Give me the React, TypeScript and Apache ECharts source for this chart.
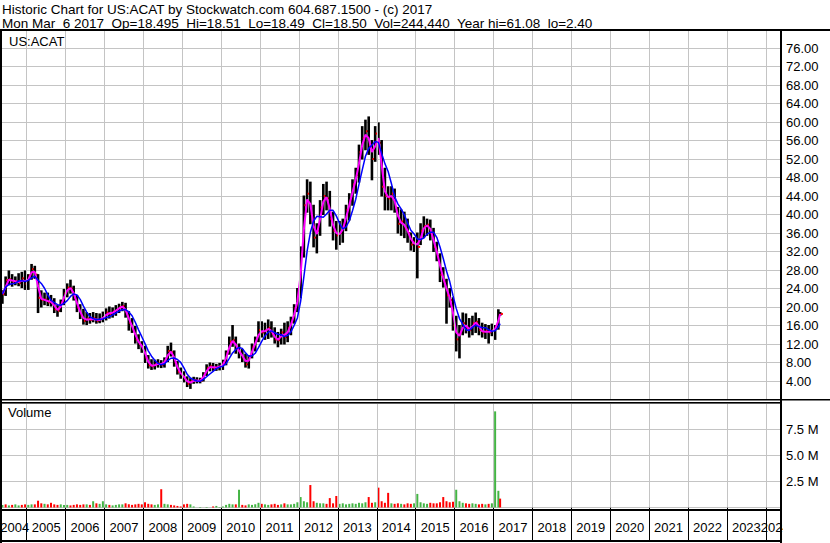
import React, { useEffect, useRef } from "react";
import * as echarts from "echarts";

// ---- time frame (monthly bars, first bar = May 2004) ----
const START_YEAR = 2004;
const START_MONTH = 5;
const LAST_BAR_T = 2017.17; // Mar 6 2017
const T_MIN = 2004.365;
const T_MAX = 2024.365;

// ---- price data ----
const HIGH = [
  23.5, 26.5, 27.8, 27.0, 26.5, 27.2, 27.5, 27.8,
  27.0, 29.2, 28.8, 27.0, 23.5, 23.0, 23.0, 22.5, 21.8, 20.3, 21.5, 23.8,
  25.0, 25.8, 24.5, 22.5, 20.5, 19.5, 18.8, 18.6, 18.8, 18.6, 18.5, 18.9,
  19.6, 20.0, 19.8, 20.3, 20.6, 21.0, 20.8, 19.0, 17.5, 15.8, 14.0, 12.5,
  11.5, 9.5, 8.6, 8.5, 8.6, 8.4, 9.0, 11.5, 12.2, 10.5, 8.2, 6.8,
  6.0, 4.9, 4.5, 4.8, 4.7, 4.6, 5.8, 7.5, 7.9, 7.8, 7.6, 7.8,
  8.5, 10.5, 13.5, 16.0, 13.5, 12.0, 10.8, 9.8, 9.5, 12.0, 13.5, 16.8,
  16.8, 16.5, 17.2, 16.8, 15.5, 14.5, 15.2, 16.5, 16.8, 17.8, 20.5, 24.0,
  33.0, 44.0, 47.5, 47.0, 42.0, 38.0, 43.0, 46.5, 47.0, 45.0, 40.5, 38.5,
  38.5, 39.0, 42.0, 44.5, 47.5, 50.0, 55.0, 59.0, 60.4, 61.1, 56.0, 59.0,
  59.8, 56.0, 50.0, 46.0, 46.0, 45.5, 41.5, 41.0, 40.5, 39.0, 36.0, 35.0,
  36.0, 38.0, 39.5, 39.0, 38.8, 37.0, 34.0, 31.5, 28.5, 26.0, 24.0, 22.0,
  18.0, 16.0, 18.7, 18.5, 17.5, 18.0, 18.7, 17.5, 16.5, 16.2, 16.0, 16.3,
  16.0, 19.4, 18.8,
];
const LOW = [
  20.8, 22.5, 24.8, 24.5, 24.8, 24.6, 24.2, 23.8,
  23.8, 26.0, 26.2, 18.8, 20.0, 20.5, 20.3, 20.2, 18.8, 18.0, 19.0, 20.5,
  22.2, 23.0, 21.5, 19.0, 17.5, 16.3, 16.2, 16.5, 16.8, 16.5, 16.6, 16.8,
  17.2, 17.6, 17.8, 18.2, 18.8, 19.2, 17.8, 15.0, 14.5, 12.2, 11.0, 10.2,
  8.0, 6.8, 6.5, 6.6, 7.0, 6.9, 7.0, 8.2, 9.4, 7.2, 5.5, 4.6,
  3.8, 2.8, 2.4, 3.5, 3.6, 3.6, 4.0, 5.2, 6.2, 6.3, 6.3, 6.4,
  6.5, 7.5, 9.8, 11.5, 10.0, 9.0, 8.2, 7.0, 6.8, 9.0, 10.5, 12.5,
  13.5, 13.0, 13.2, 13.5, 12.2, 11.4, 12.0, 12.0, 12.5, 14.0, 16.5, 19.0,
  22.0, 30.8, 40.5, 38.0, 33.0, 31.7, 35.5, 40.0, 41.0, 37.5, 34.5, 32.5,
  33.5, 34.0, 36.5, 38.8, 42.0, 44.6, 47.0, 52.0, 54.0, 53.0, 47.5, 51.5,
  53.0, 44.0, 41.0, 41.0, 41.0, 40.5, 36.0, 35.5, 35.0, 34.0, 32.3, 32.0,
  26.3, 33.5, 35.0, 35.5, 34.5, 32.0, 30.0, 25.5, 24.3, 16.5, 20.0, 15.0,
  10.5, 9.0, 14.0, 14.4, 13.5, 14.0, 14.5, 14.0, 13.5, 13.2, 12.2, 13.8,
  13.0, 15.2, 18.2,
];
const CLOSE = [
  22.8, 25.8, 26.0, 25.5, 25.6, 25.2, 26.2, 25.0,
  26.8, 28.2, 27.0, 22.0, 21.5, 21.6, 21.0, 21.2, 19.5, 19.2, 21.0, 23.0,
  24.2, 24.0, 22.0, 19.8, 18.2, 17.0, 17.5, 17.2, 17.6, 17.0, 17.4, 17.8,
  18.8, 18.5, 19.0, 19.4, 20.0, 20.2, 18.6, 16.5, 15.2, 13.0, 12.0, 11.2,
  9.0, 7.4, 7.2, 7.6, 7.8, 7.5, 8.6, 10.5, 10.2, 8.0, 6.0, 5.4,
  4.5, 3.4, 3.9, 4.2, 4.0, 4.1, 5.5, 6.8, 7.2, 6.8, 7.0, 7.2,
  7.8, 10.0, 12.5, 12.8, 11.0, 10.0, 9.0, 7.6, 9.2, 11.4, 12.8, 15.0,
  14.5, 15.0, 15.5, 14.2, 13.0, 12.8, 14.5, 13.5, 15.5, 16.8, 19.8, 22.5,
  31.5, 42.0, 44.5, 40.0, 35.0, 36.5, 41.5, 44.0, 43.5, 39.0, 36.5, 35.5,
  36.0, 37.5, 41.0, 43.0, 46.5, 48.5, 53.5, 56.5, 58.0, 55.0, 52.0, 57.5,
  55.5, 46.0, 44.0, 43.5, 44.5, 41.5, 38.0, 38.5, 37.0, 36.0, 33.5, 34.0,
  33.0, 36.5, 37.5, 37.8, 36.0, 33.0, 31.0, 27.0, 25.5, 22.5, 21.5, 16.0,
  13.0, 14.5, 16.5, 15.5, 15.0, 16.5, 16.8, 15.0, 14.5, 14.8, 14.5, 15.0,
  15.5, 18.5, 18.5,
];

// ---- volume (millions) and bar colour (g = green, r = red) ----
const VOLUME = [
  0.25, 0.3, 0.2, 0.25, 0.3, 0.2, 0.25, 0.3,
  0.25, 0.3, 0.3, 0.65, 0.4, 0.35, 0.3, 0.45, 0.3, 0.25, 0.3, 0.25,
  0.25, 0.2, 0.25, 0.3, 0.25, 0.3, 0.3, 0.25, 0.6, 0.4, 0.35, 0.6,
  0.3, 0.25, 0.2, 0.25, 0.3, 0.3, 0.4, 0.3, 0.25, 0.3, 0.35, 0.3,
  0.5, 0.35, 0.3, 0.25, 0.3, 1.75, 0.35, 0.3, 0.25, 0.2, 0.15, 0.1,
  0.3, 0.35, 0.3, 0.1, 0, 0.05, 0, 0.05, 0, 0.1, 0.15, 0.05,
  0.1, 0.25, 0.35, 0.3, 0.3, 1.7, 0.25, 0.2, 0.3, 0.25, 0.3, 0.45,
  0.35, 0.3, 0.25, 0.3, 0.35, 0.25, 0.3, 0.4, 0.3, 0.3, 0.35, 0.5,
  1.0, 0.6, 0.5, 2.15, 0.6, 0.45, 0.4, 0.4, 0.35, 0.9, 0.4, 1.1,
  0.35, 0.4, 0.3, 0.35, 0.4, 0.35, 0.45, 0.4, 0.5, 1.0, 0.45, 0.5,
  1.9, 0.6, 0.45, 1.4, 0.4, 0.35, 0.4, 0.35, 0.3, 0.4, 0.35, 0.4,
  1.3, 0.5, 0.4, 0.35, 0.45, 0.4, 0.4, 0.5, 1.0, 0.6, 0.5, 0.55,
  1.7, 0.6, 0.45, 0.4, 0.35, 0.4, 0.35, 0.3, 0.35, 0.3, 0.35, 0.4,
  9.2, 1.6, 0.85,
];
const VOL_DIR = (
  "grgrggrr" +
  "ggrrrgrrrrgg" +
  "grrrrrgrgrgg" +
  "grggggrrrrrr" +
  "rrrggrggrrrr" +
  "rrggrggggrgg" +
  "ggggrgrrgggg" +
  "rggrrrgrgggg" +
  "gggrrgggrrrr" +
  "gggggggggrrg" +
  "rrrrgrrgrrrg" +
  "ggggrrrrrrrr" +
  "gggrrggrrgrg" +
  "ggr"
).split("");

// ---- axes ----
const GRID_YEARS = [2005, 2006, 2007, 2008, 2009, 2010, 2011, 2012, 2013, 2014, 2015, 2016, 2017, 2018, 2019, 2020, 2021, 2022, 2023, 2024];
const YEAR_LABEL_POS = [2004.69, 2005.5, 2006.5, 2007.5, 2008.5, 2009.5, 2010.5, 2011.5, 2012.5, 2013.5, 2014.5, 2015.5, 2016.5, 2017.5, 2018.5, 2019.5, 2020.5, 2021.5, 2022.5, 2023.5, 2024.24];
const MA_FAST = 2;
const MA_SLOW = 5;

const HEADER_1 = "Historic Chart for US:ACAT by Stockwatch.com 604.687.1500 - (c) 2017";
const HEADER_2 = "Mon Mar  6 2017  Op=18.495  Hi=18.51  Lo=18.49  Cl=18.50  Vol=244,440  Year hi=61.08  lo=2.40";

const FONT = "'Liberation Sans', Arial, sans-serif";

function barTime(i: number) {
  const m0 = START_MONTH - 1 + i;
  const y = START_YEAR + Math.floor(m0 / 12);
  const m = m0 % 12;
  const t = y + (m + 0.5) / 12;
  return Math.min(t, LAST_BAR_T);
}

function sma(values: number[], n: number) {
  return values.map((_, i) => {
    const from = Math.max(0, i - n + 1);
    const slice = values.slice(from, i + 1);
    return slice.reduce((a, b) => a + b, 0) / slice.length;
  });
}

export default function App() {
  const ref = useRef<HTMLDivElement>(null);

  useEffect(() => {
    if (!ref.current) return;
    const chart = echarts.init(ref.current, undefined, { renderer: "svg" });

    const times = CLOSE.map((_, i) => barTime(i));
    const priceData = CLOSE.map((c, i) => [times[i], LOW[i], HIGH[i], c]);
    const fast = sma(CLOSE, MA_FAST).map((v, i) => [times[i], v]);
    const slow = sma(CLOSE, MA_SLOW).map((v, i) => [times[i], v]);
    const volData = VOLUME.map((v, i) => ({
      value: [times[i], v],
      itemStyle: { color: VOL_DIR[i] === "g" ? "#44b444" : "#ff0000" },
    }));

    const gridLine = {
      silent: true,
      symbol: ["none", "none"],
      label: { show: false },
      lineStyle: { color: "#c4c4c4", width: 1, type: "solid" as const },
      emphasis: { disabled: true },
      data: GRID_YEARS.map((y) => ({ xAxis: y })),
    };

    const blackRect = (x: number, y: number, w: number, h: number) => ({
      type: "rect",
      z: 100,
      silent: true,
      shape: { x, y, width: w, height: h },
      style: { fill: "#000" },
    });

    const txt = (x: number, y: number, text: string, size = 13) => ({
      type: "text",
      z: 110,
      x,
      y,
      silent: true,
      style: { text, fill: "#000", fontSize: size, fontFamily: FONT, verticalAlign: "top", align: "left" },
    });

    chart.setOption({
      animation: false,
      backgroundColor: "#fff",
      grid: [
        { left: 2, top: 29.5, width: 778, height: 370, outerBoundsMode: "none", containLabel: false },
        { left: 2, top: 403, width: 778, height: 104.5, outerBoundsMode: "none", containLabel: false },
      ],
      xAxis: [
        { type: "value", gridIndex: 0, min: T_MIN, max: T_MAX, show: false },
        {
          type: "value",
          gridIndex: 1,
          min: T_MIN,
          max: T_MAX,
          axisLine: { show: false },
          splitLine: { show: false },
          axisTick: {
            show: true,
            customValues: GRID_YEARS,
            length: 33,
            lineStyle: { color: "#000", width: 1 },
          },
          axisLabel: {
            customValues: YEAR_LABEL_POS,
            formatter: (v: number) => String(Math.floor(v)),
            margin: 13,
            color: "#000",
            fontSize: 13,
            fontFamily: FONT,
            showMinLabel: true,
            showMaxLabel: true,
            hideOverlap: false,
          },
        },
      ],
      yAxis: [
        {
          type: "value",
          gridIndex: 0,
          position: "right",
          min: 0,
          max: 80,
          interval: 4,
          axisLine: { show: false },
          axisTick: { show: false },
          splitLine: { show: true, lineStyle: { color: "#c4c4c4", width: 1 } },
          axisLabel: {
            formatter: (v: number) => (v <= 0 || v >= 80 ? "" : v.toFixed(2)),
            align: "left",
            margin: 6,
            color: "#000",
            fontSize: 13,
            fontFamily: FONT,
          },
        },
        {
          type: "value",
          gridIndex: 1,
          position: "right",
          min: 0,
          max: 10,
          interval: 2.5,
          axisLine: { show: false },
          axisTick: { show: false },
          splitLine: { show: true, lineStyle: { color: "#c4c4c4", width: 1 } },
          axisLabel: {
            formatter: (v: number) => (v <= 0 || v >= 10 ? "" : v.toFixed(1) + " M"),
            align: "left",
            margin: 6,
            color: "#000",
            fontSize: 13,
            fontFamily: FONT,
          },
        },
      ],
      series: [
        {
          type: "line",
          xAxisIndex: 0,
          yAxisIndex: 0,
          z: 1,
          data: [[T_MIN, -10]],
          symbol: "none",
          lineStyle: { opacity: 0 },
          silent: true,
          markLine: gridLine,
        },
        {
          type: "line",
          xAxisIndex: 1,
          yAxisIndex: 1,
          z: 1,
          data: [[T_MIN, -10]],
          symbol: "none",
          lineStyle: { opacity: 0 },
          silent: true,
          markLine: gridLine,
        },
        {
          type: "custom",
          xAxisIndex: 0,
          yAxisIndex: 0,
          z: 3,
          silent: true,
          encode: { x: 0, y: [1, 2, 3] },
          data: priceData,
          renderItem: (_params: any, api: any) => {
            const t = api.value(0);
            const lo = api.coord([t, api.value(1)]);
            const hi = api.coord([t, api.value(2)]);
            const cl = api.coord([t, api.value(3)]);
            return {
              type: "group",
              children: [
                {
                  type: "line",
                  shape: { x1: lo[0], y1: lo[1] + 0.5, x2: hi[0], y2: hi[1] - 0.5 },
                  style: { stroke: "#000", lineWidth: 2.6 },
                },
                {
                  type: "line",
                  shape: { x1: cl[0] + 0.5, y1: cl[1], x2: cl[0] + 2.8, y2: cl[1] },
                  style: { stroke: "#ff0000", lineWidth: 2 },
                },
              ],
            };
          },
        },
        {
          type: "line",
          xAxisIndex: 0,
          yAxisIndex: 0,
          z: 4,
          data: fast,
          symbol: "none",
          silent: true,
          lineStyle: { color: "#ff00ff", width: 2 },
        },
        {
          type: "line",
          xAxisIndex: 0,
          yAxisIndex: 0,
          z: 5,
          data: slow,
          symbol: "none",
          silent: true,
          lineStyle: { color: "#0000ff", width: 1.5 },
        },
        {
          type: "bar",
          xAxisIndex: 1,
          yAxisIndex: 1,
          z: 3,
          barWidth: 2,
          silent: true,
          data: volData,
        },
      ],
      graphic: [
        { type: "rect", z: 90, silent: true, shape: { x: 783, y: 511, width: 47, height: 32 }, style: { fill: "#fff" } },
        blackRect(0, 29, 830, 2),
        blackRect(0, 29, 2, 514),
        blackRect(780, 29, 2, 514),
        blackRect(0, 399, 830, 1.5),
        blackRect(0, 402, 780, 1.5),
        blackRect(0, 509, 782, 2),
        blackRect(0, 540, 782, 2),
        txt(2, 2, HEADER_1, 13.5),
        txt(2, 16, HEADER_2, 13.5),
        txt(9, 35, "US:ACAT"),
        txt(8, 406, "Volume"),
      ],
    });

    return () => chart.dispose();
  }, []);

  return (
    <div
      ref={ref}
      style={{ position: "fixed", left: 0, top: 0, width: 830, height: 543, background: "#fff" }}
    />
  );
}
